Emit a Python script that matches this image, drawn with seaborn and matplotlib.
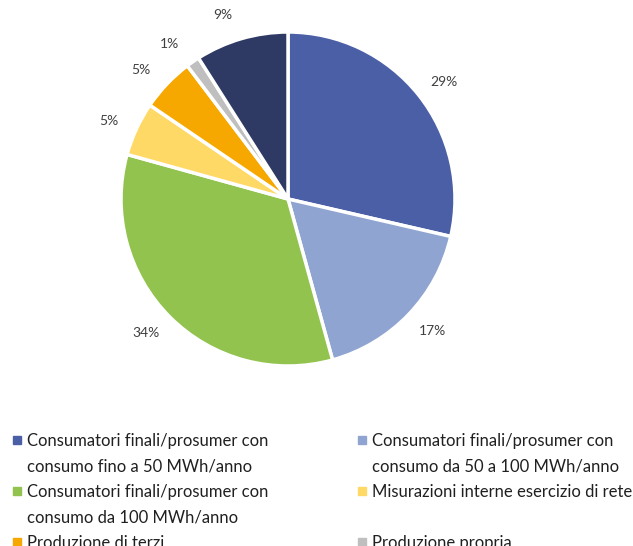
import matplotlib
matplotlib.use("Agg")
import numpy as np
import matplotlib.pyplot as plt
import seaborn as sns
from matplotlib.lines import Line2D

categories = [
    "Consumatori finali/prosumer con\nconsumo fino a 50 MWh/anno",
    "Consumatori finali/prosumer con\nconsumo da 50 a 100 MWh/anno",
    "Consumatori finali/prosumer con\nconsumo da 100 MWh/anno",
    "Misurazioni interne esercizio di rete",
    "Produzione di terzi",
    "Produzione propria",
    "Altro",
]
values = [28.6, 17.1, 33.6, 5.2, 5.2, 1.3, 9.0]
colors = ["#4A5FA5", "#8FA4D0", "#92C34F", "#FFD966", "#F6A800", "#BFBFBF", "#2E3A64"]
# small angular nudges (degrees) of the percentage labels, as placed in the original
label_nudge = [-1.6, 1.3, -1.7, 1.3, 2.3, 2.7, 3.4]

sns.set_theme(style="white")
plt.rcParams['font.family'] = ['Lato', 'DejaVu Sans']

W, H = 633, 546
fig = plt.figure(figsize=(W / 100, H / 100), dpi=100)
cx, cy, r = 288, 199, 167
ax = fig.add_axes([(cx - r) / W, (H - cy - r) / H, 2 * r / W, 2 * r / H])
pal = sns.color_palette(colors)
wedges, texts, autotexts = ax.pie(
    values, colors=pal, startangle=90, counterclock=False,
    autopct='%.0f%%', pctdistance=1.16,
    wedgeprops=dict(edgecolor='white', linewidth=2.5),
    textprops=dict(fontsize=10, color='#404040'),
)
for w, t, nd in zip(wedges, autotexts, label_nudge):
    mid = np.deg2rad((w.theta1 + w.theta2) / 2 + nd)
    t.set_position((1.17 * np.cos(mid), 1.17 * np.sin(mid)))
ax.set_xlim(-1, 1)
ax.set_ylim(-1, 1)
ax.set_aspect('equal')
ax.axis('off')

# legend laid out row-wise (two columns), one entry per text line
rows = [(categories[i], colors[i], categories[i + 1] if i + 1 < len(categories) else None,
         colors[i + 1] if i + 1 < len(categories) else None) for i in range(0, len(categories), 2)]
cols = [[], []]
for a, ca, b, cb in rows:
    la = a.split("\n")
    lb = b.split("\n") if b is not None else []
    n = max(len(la), len(lb))
    for k, (lines, c) in enumerate(((la, ca), (lb, cb))):
        if not lines:
            continue
        for j in range(n):
            txt = lines[j] if j < len(lines) else " "
            if j == 0:
                h = Line2D([0], [0], marker='s', linestyle='none', markersize=5.5,
                           markerfacecolor=c, markeredgecolor=c)
            else:
                h = Line2D([0], [0], linestyle='none', marker=None)
            cols[k].append((h, txt))
entries = cols[0] + cols[1]
handles = [e[0] for e in entries]
labels = [e[1] for e in entries]
fig.legend(handles, labels, loc='upper left', bbox_to_anchor=(0.0084, 0.2200),
           ncol=2, frameon=False, fontsize=12, handlelength=0.6, handletextpad=0.3,
           columnspacing=5.3, labelspacing=0.57, borderaxespad=0, labelcolor='#202020')

fig.savefig("out.png", dpi=100)
